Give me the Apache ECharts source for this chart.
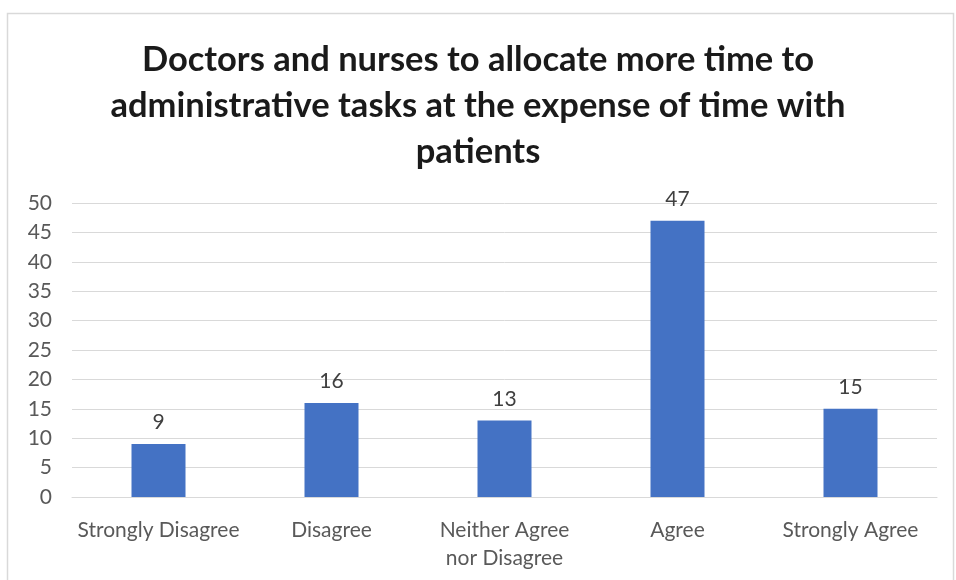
<!DOCTYPE html>
<html>
<head>
<meta charset="utf-8">
<script src="https://cdn.jsdelivr.net/npm/echarts@6/dist/echarts.min.js"></script>
<style>
html,body{margin:0;padding:0;background:#fff;}
#chart{width:956px;height:580px;}
</style>
</head>
<body>
<div id="chart"></div>
<script>
const titleText = "Doctors and nurses to allocate more time to\nadministrative tasks at the expense of time with\npatients";
const categories = ["Strongly Disagree", "Disagree", "Neither Agree\nnor Disagree", "Agree", "Strongly Agree"];
const values = [9, 16, 13, 47, 15];
const yMin = 0, yMax = 50, yStep = 5;

const chart = echarts.init(document.getElementById('chart'));
chart.setOption({
  animation: false,
  backgroundColor: '#fff',
  graphic: [{
    type: 'rect',
    shape: {x: 7.5, y: 13.5, width: 946, height: 600},
    style: {fill: 'none', stroke: '#d9d9d9', lineWidth: 1.5}
  }],
  title: {
    text: titleText,
    left: 'center',
    top: 32,
    textStyle: {fontFamily: 'Lato', fontWeight: 'bold', fontSize: 34.5, color: '#1a1a1a', lineHeight: 46}
  },
  grid: {left: 72, right: 19, top: 203, bottom: 83},
  xAxis: {
    type: 'category',
    data: categories,
    axisLine: {lineStyle: {color: '#d9d9d9', width: 1}},
    axisTick: {show: false},
    axisLabel: {fontFamily: 'Lato', fontSize: 21, color: '#595959', margin: 19, lineHeight: 28, interval: 0}
  },
  yAxis: {
    type: 'value',
    min: yMin, max: yMax, interval: yStep,
    axisLine: {show: false},
    axisTick: {show: false},
    splitLine: {lineStyle: {color: '#d9d9d9', width: 1}},
    axisLabel: {fontFamily: 'Lato', fontSize: 21, color: '#595959', margin: 20}
  },
  series: [{
    type: 'bar',
    data: values,
    barWidth: 54,
    itemStyle: {color: '#4472C4'},
    label: {show: true, position: 'top', distance: 11, fontFamily: 'Lato', fontSize: 21, color: '#404040'}
  }]
});
</script>
</body>
</html>
